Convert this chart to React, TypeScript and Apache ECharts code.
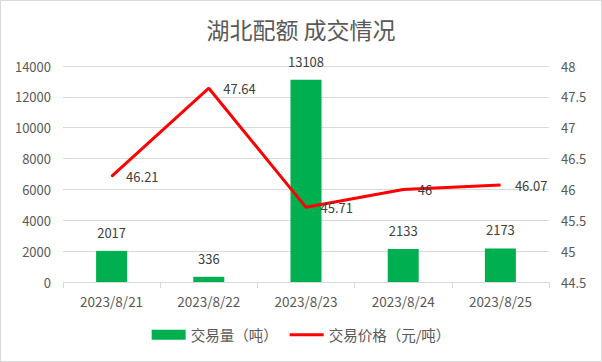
import React, { useEffect, useRef } from "react";
import * as echarts from "echarts";

const categories = ["2023/8/21", "2023/8/22", "2023/8/23", "2023/8/24", "2023/8/25"];
const volumes = [2017, 336, 13108, 2133, 2173];
const prices = [46.21, 47.64, 45.71, 46, 46.07];
const leftTicks = { min: 0, max: 14000, interval: 2000 };
const rightTicks = { min: 44.5, max: 48, interval: 0.5 };

const FONT = "'Noto Sans CJK SC', 'Noto Sans', sans-serif";
const TXT = "#595959";

export default function App() {
  const ref = useRef<HTMLDivElement>(null);
  useEffect(() => {
    document.body.style.margin = "0";
    if (!ref.current) return;
    const chart = echarts.init(ref.current, undefined, { renderer: "svg" });
    chart.setOption({
      animation: false,
      backgroundColor: "#ffffff",
      textStyle: { fontFamily: FONT },
      title: {
        text: "湖北配额 成交情况",
        left: "center",
        top: 11,
        textStyle: { fontSize: 23, fontWeight: "normal", color: TXT, fontFamily: FONT },
      },
      legend: {
        bottom: 14,
        left: "center",
        itemGap: 12,
        itemWidth: 34,
        itemHeight: 10,
        textStyle: { fontSize: 14.5, color: TXT, fontFamily: FONT },
        data: [
          { name: "交易量（吨）", icon: "rect" },
          { name: "交易价格（元/吨）", icon: "path://M0,0 L40,0 L40,3.4 L0,3.4 Z" },
        ],
      },
      grid: { left: 62, right: 52, top: 65, bottom: 79, containLabel: false },
      xAxis: {
        type: "category",
        data: categories,
        boundaryGap: true,
        axisLine: { lineStyle: { color: "#d9d9d9" } },
        axisTick: { show: true, length: 6, lineStyle: { color: "#d9d9d9" } },
        axisLabel: { color: TXT, fontSize: 13.5, margin: 12, fontFamily: FONT },
      },
      yAxis: [
        {
          type: "value",
          ...leftTicks,
          axisLine: { show: false },
          axisTick: { show: false },
          splitLine: { lineStyle: { color: "#d9d9d9" } },
          axisLabel: { color: TXT, fontSize: 13, margin: 12, fontFamily: FONT, formatter: (v: number) => String(v) },
        },
        {
          type: "value",
          ...rightTicks,
          axisLine: { show: false },
          axisTick: { show: false },
          splitLine: { show: false },
          axisLabel: { color: TXT, fontSize: 13, margin: 12, fontFamily: FONT, formatter: (v: number) => String(v) },
        },
      ],
      series: [
        {
          name: "交易量（吨）",
          type: "bar",
          data: volumes,
          barWidth: 31,
          itemStyle: { color: "#00b050" },
          label: { show: true, position: "top", distance: 12, color: "#404040", fontSize: 13, fontFamily: FONT },
        },
        {
          name: "交易价格（元/吨）",
          type: "line",
          yAxisIndex: 1,
          data: prices,
          symbol: "circle",
          symbolSize: 1,
          showSymbol: true,
          lineStyle: { color: "#ff0000", width: 3 },
          itemStyle: { color: "#ff0000" },
          label: { show: true, position: "right", distance: 14, color: "#404040", fontSize: 13, fontFamily: FONT },
        },
      ],
    });
    return () => chart.dispose();
  }, []);
  return (
    <div
      ref={ref}
      style={{ width: 602, height: 362, boxSizing: "border-box", border: "1px solid #d9d9d9" }}
    />
  );
}
